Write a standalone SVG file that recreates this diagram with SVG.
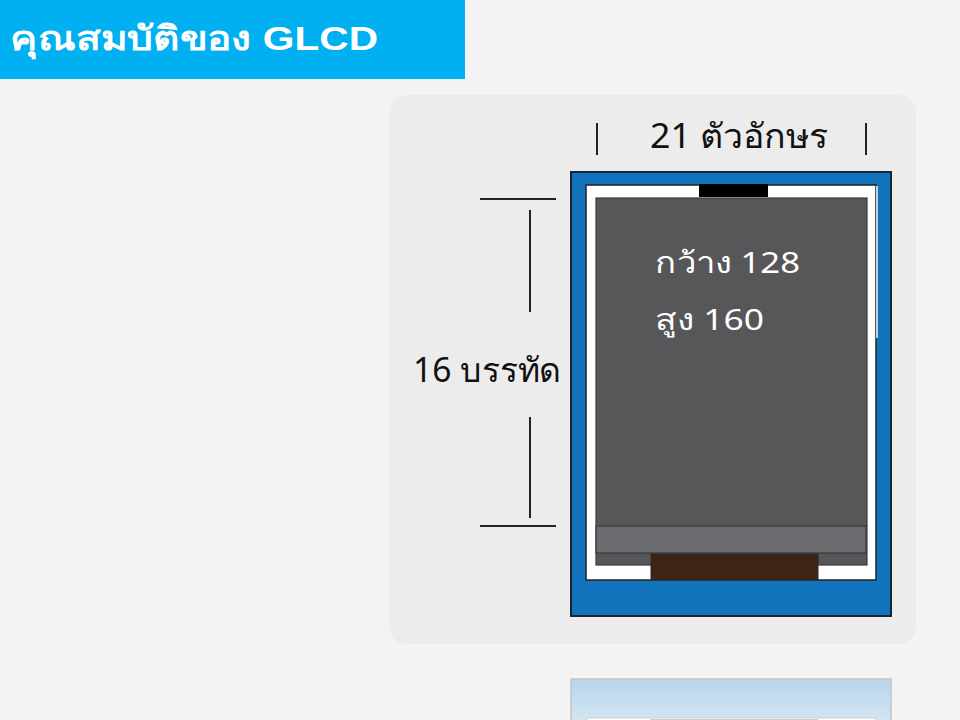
<svg xmlns="http://www.w3.org/2000/svg" width="960" height="720" viewBox="0 0 960 720">
<defs>
<style>
.lbl{font-family:"Noto Sans","DejaVu Sans","Liberation Sans",sans-serif;fill:#111}
.scr{font-family:"Noto Sans","DejaVu Sans","Liberation Sans",sans-serif;fill:#ffffff}
.dim{stroke:#222;stroke-width:2;fill:none}
</style>
<linearGradient id="refl" x1="0" y1="0" x2="0" y2="1">
<stop offset="0" stop-color="#b7d5ec"/>
<stop offset="1" stop-color="#d9e8f3"/>
</linearGradient>
</defs>
<rect x="0" y="0" width="960" height="720" fill="#f3f3f3"/>
<g id="title">
<rect x="0" y="0" width="465" height="79" fill="#00b0f0"/>
<text x="10" y="50" font-family="'Liberation Sans','Noto Sans',sans-serif" font-weight="bold" font-size="34" fill="#ffffff" textLength="368" lengthAdjust="spacingAndGlyphs">คุณสมบัติของ GLCD</text>
</g>
<g id="panel">
<rect x="390" y="95" width="526" height="549" rx="16" fill="#ececec"/>
</g>
<g id="reflection">
<rect x="571" y="679" width="320" height="50" fill="url(#refl)" stroke="#c3c3c3" stroke-width="1.5"/>
<rect x="587" y="718" width="289" height="10" fill="#ffffff" stroke="#cfcfcf"/>
<rect x="650" y="719" width="168" height="9" fill="#d2cdc8"/>
</g>
<g id="glcd">
<rect x="571" y="172" width="320" height="444" fill="#1273bd" stroke="#1b2430" stroke-width="2"/>
<rect x="586" y="185" width="290" height="395" fill="#ffffff" stroke="#222" stroke-width="1.5"/>
<rect x="876" y="186" width="2" height="152" fill="#c9d2dc"/>
<rect x="596" y="198" width="271" height="367" fill="#575759" stroke="#3a3a3a" stroke-width="1.2"/>
<rect x="699" y="184" width="69" height="13" fill="#000000"/>
<rect x="596" y="526" width="270" height="27" fill="#6b6c70" stroke="#3a3a3c" stroke-width="1.2"/>
<rect x="651" y="554" width="167" height="26" fill="#3d2415" stroke="#2a2a2a" stroke-width="1"/>
<text class="scr" x="655" y="273" font-size="29" textLength="145" lengthAdjust="spacingAndGlyphs">กว้าง 128</text>
<text class="scr" x="655" y="330" font-size="29" textLength="109" lengthAdjust="spacingAndGlyphs">สูง 160</text>
</g>
<g id="width-label">
<text class="lbl" x="650" y="148" font-size="34" textLength="178" lengthAdjust="spacingAndGlyphs">21 ตัวอักษร</text>
</g>
<g id="height-label">
<text class="lbl" x="413" y="382" font-size="34" textLength="148" lengthAdjust="spacingAndGlyphs">16 บรรทัด</text>
</g>
<g id="connectors">
<line class="dim" x1="597" y1="123" x2="597" y2="155"/>
<line class="dim" x1="866" y1="123" x2="866" y2="155"/>
<line class="dim" x1="480" y1="199" x2="556" y2="199"/>
<line class="dim" x1="530" y1="210" x2="530" y2="312"/>
<line class="dim" x1="530" y1="417" x2="530" y2="518"/>
<line class="dim" x1="480" y1="526" x2="556" y2="526"/>
</g>
</svg>
